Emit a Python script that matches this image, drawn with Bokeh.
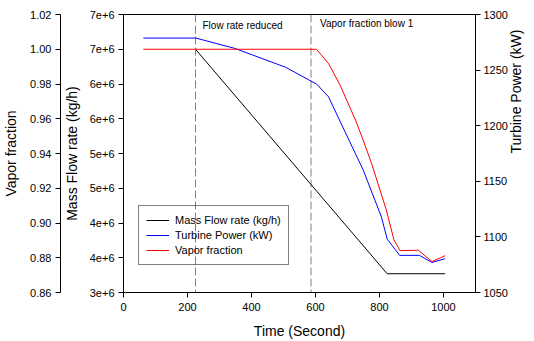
import math
from bokeh.plotting import figure
from bokeh.models import (Range1d, LinearAxis, FixedTicker, Span, Label, Legend,
                          LegendItem, NumeralTickFormatter, CustomJSTickFormatter)
from bokeh.embed import file_html
from bokeh.resources import INLINE

# ---------------- data ----------------
mf_time = [225, 824, 1005]
mf_vals = [6.5e6, 3.27e6, 3.27e6]

pw_time = [62, 226, 347, 507, 604, 641, 675, 749, 806, 824, 863, 925, 964, 1005]
pw_vals = [1278.8, 1278.8, 1269.6, 1252.5, 1237.3, 1225.9, 1205.0, 1160.2, 1118.0,
           1098.0, 1083.4, 1083.4, 1077.0, 1080.4]

vf_time = [62, 603, 641, 677, 725, 749, 775, 821, 845, 864, 922, 964, 1005]
vf_vals = [1.0, 1.0, 0.9917, 0.9793, 0.9592, 0.9477, 0.9344, 0.9076, 0.8904,
           0.8841, 0.8843, 0.8778, 0.8812]

event_times = [225, 586]
event_labels = ["Flow rate reduced", "Vapor fraction blow 1"]

x_ticks = [0, 200, 400, 600, 800, 1000]
mf_ticks = [3.0e6, 3.5e6, 4.0e6, 4.5e6, 5.0e6, 5.5e6, 6.0e6, 6.5e6, 7.0e6]
mf_tick_labels = ["3e+6", "4e+6", "4e+6", "5e+6", "5e+6", "6e+6", "6e+6", "7e+6", "7e+6"]
vf_ticks = [0.86, 0.88, 0.90, 0.92, 0.94, 0.96, 0.98, 1.00, 1.02]
pw_ticks = [1050, 1100, 1150, 1200, 1250, 1300]

series_names = ["Mass Flow rate (kg/h)", "Turbine Power (kW)", "Vapor fraction"]

FONT = "Liberation Sans"

p = figure(width=534, height=341, x_range=Range1d(0, 1100), y_range=Range1d(3e6, 7e6),
           output_backend="svg", toolbar_location=None,
           min_border_left=123, min_border_right=55, min_border_top=14, min_border_bottom=48)
p.extra_y_ranges = {"vf": Range1d(0.86, 1.02), "pw": Range1d(1050, 1300)}
p.xgrid.visible = False
p.ygrid.visible = False
p.outline_line_color = "black"
p.outline_line_width = 1
p.background_fill_color = "white"
p.border_fill_color = "white"


def style_axis(ax, title, tick_standoff=4, label_standoff=8):
    ax.axis_label = title
    ax.axis_label_text_font = FONT
    ax.axis_label_text_font_size = "14px"
    ax.axis_label_text_font_style = "normal"
    ax.axis_label_text_color = "black"
    ax.axis_label_standoff = label_standoff
    ax.major_label_text_font = FONT
    ax.major_label_text_font_size = "11px"
    ax.major_label_text_color = "black"
    ax.major_label_standoff = tick_standoff
    ax.major_tick_in = 0
    ax.major_tick_out = 5
    ax.minor_tick_line_color = None
    ax.axis_line_color = "black"
    ax.major_tick_line_color = "black"


# x axis
xa = p.xaxis[0]
xa.ticker = FixedTicker(ticks=x_ticks)
style_axis(xa, "Time (Second)", tick_standoff=5, label_standoff=9)

# inner left axis: mass flow
ya = p.yaxis[0]
ya.ticker = FixedTicker(ticks=mf_ticks)
ya.formatter = CustomJSTickFormatter(args=dict(mft=mf_ticks, mfl=mf_tick_labels), code="""
    const i = mft.findIndex(t => Math.abs(t - tick) < 1);
    return i >= 0 ? mfl[i] : '';
""")
style_axis(ya, "Mass Flow rate (kg/h)", tick_standoff=4, label_standoff=7)

# outer left axis: vapor fraction
vfa = LinearAxis(y_range_name="vf", ticker=FixedTicker(ticks=vf_ticks),
                 formatter=NumeralTickFormatter(format="0.00"))
style_axis(vfa, "Vapor fraction", tick_standoff=4, label_standoff=8)
p.add_layout(vfa, "left")

# right axis: turbine power
pwa = LinearAxis(y_range_name="pw", ticker=FixedTicker(ticks=pw_ticks))
style_axis(pwa, "Turbine Power (kW)", tick_standoff=3, label_standoff=5)
pwa.axis_label_orientation = math.pi / 2
p.add_layout(pwa, "right")

# event markers
for t in event_times:
    p.add_layout(Span(location=t, dimension="height", line_color="#808080",
                      line_dash="8 3", line_width=1, level="underlay"))

lbl_y = [6.84e6, 6.875e6]
lbl_off = [7, 9]
for t, txt, yy, off in zip(event_times, event_labels, lbl_y, lbl_off):
    p.add_layout(Label(x=t, y=yy, x_offset=off, text=txt, text_baseline="middle",
                       text_font=FONT, text_font_size="10px", text_color="black"))

r_mf = p.line(mf_time, mf_vals, line_color="black", line_width=1)
r_pw = p.line(pw_time, pw_vals, line_color="#0000ff", line_width=1, y_range_name="pw")
r_vf = p.line(vf_time, vf_vals, line_color="#ff0000", line_width=1, y_range_name="vf")

legend = Legend(items=[LegendItem(label=series_names[0], renderers=[r_mf]),
                       LegendItem(label=series_names[1], renderers=[r_pw]),
                       LegendItem(label=series_names[2], renderers=[r_vf])],
                location=(15, 27))
legend.border_line_color = "black"
legend.border_line_width = 1
legend.background_fill_alpha = 0
legend.padding = 7
legend.spacing = 1
legend.margin = 0
legend.glyph_width = 23
legend.glyph_height = 14
legend.label_height = 14
legend.label_standoff = 6
legend.label_text_font = FONT
legend.label_text_font_size = "11px"
legend.label_text_color = "black"
p.add_layout(legend)

open("out.html", "w").write(file_html(p, INLINE))
